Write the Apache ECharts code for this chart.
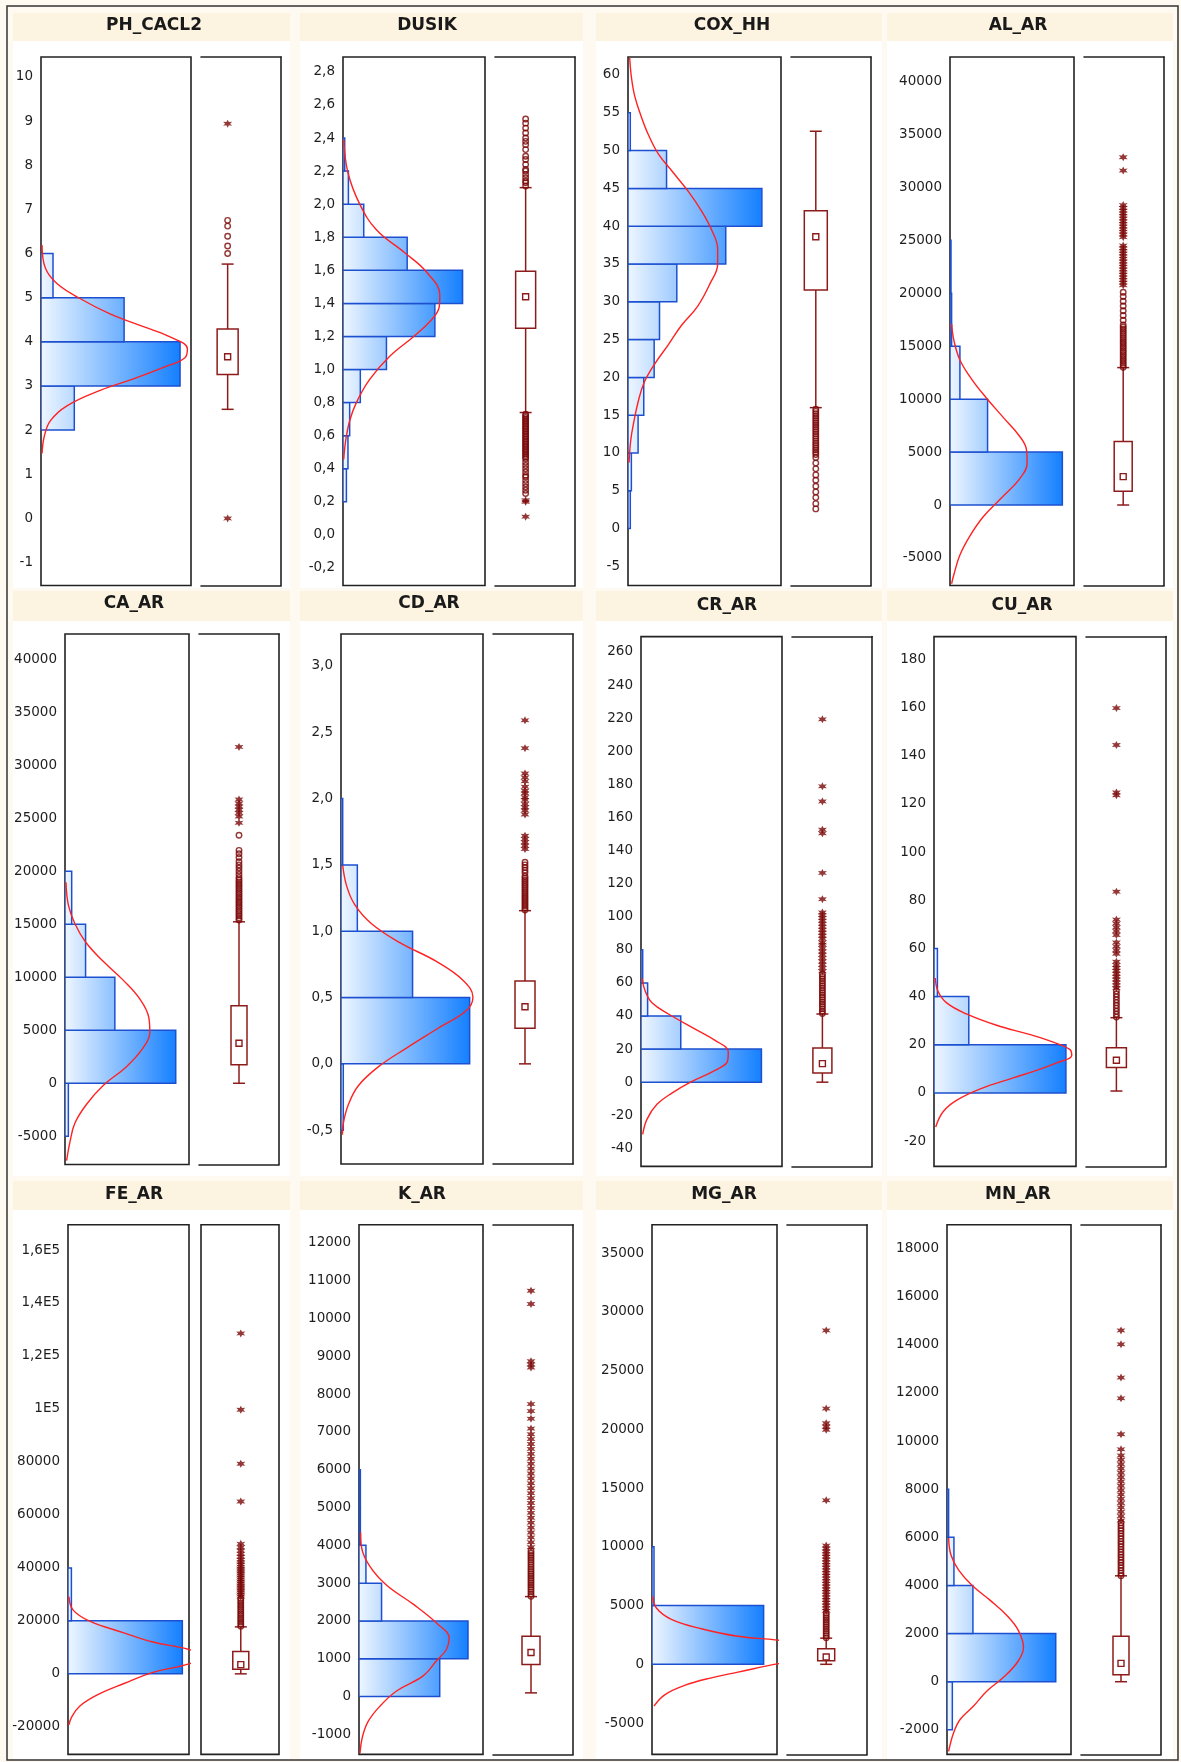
<!DOCTYPE html>
<html>
<head>
<meta charset="utf-8">
<script src="https://cdn.jsdelivr.net/npm/echarts@6/dist/echarts.min.js"></script>
<style>
html,body{margin:0;padding:0;background:#fefaf1;}
#chart{width:1181px;height:1762px;}
</style>
</head>
<body>
<div id="chart"></div>
<script>
// ---- data ----
// bins: [from, to, bar length in % of the plot width]
// curve: [x in % of plot width, value]
// box: [lower whisker, q1, q3, upper whisker, mean]
const names = ['PH_CACL2','DUSIK','COX_HH','AL_AR','CA_AR','CD_AR','CR_AR','CU_AR','FE_AR','K_AR','MG_AR','MN_AR']

const yRanges = [[-1.52,10.45],[-0.306,2.89],[-7.53,62.38],[-7601,42312],[-7661,42378],[-0.755,3.241],
    [-50.9,269.3],[-30.5,189.5],[-30406,169551],[-1529,12479],[-7667,37410],[-3020,18988]]

const phTicks = [-1,0,1,2,3,4,5,6,7,8,9,10]
const duTicks = [-0.2,0,0.2,0.4,0.6,0.8,1.0,1.2,1.4,1.6,1.8,2.0,2.2,2.4,2.6,2.8]
const coxTicks = [-5,0,5,10,15,20,25,30,35,40,45,50,55,60]
const alTicks = [-5000,0,5000,10000,15000,20000,25000,30000,35000,40000]
const caTicks = [-5000,0,5000,10000,15000,20000,25000,30000,35000,40000]
const cdTicks = [-0.5,0,0.5,1.0,1.5,2.0,2.5,3.0]
const crTicks = [-40,-20,0,20,40,60,80,100,120,140,160,180,200,220,240,260]
const cuTicks = [-20,0,20,40,60,80,100,120,140,160,180]
const feTicks = [-20000,0,20000,40000,60000,80000,100000,120000,140000,160000]
const feTickLabels = ['-20000','0','20000','40000','60000','80000','1E5','1,2E5','1,4E5','1,6E5']
const kTicks = [-1000,0,1000,2000,3000,4000,5000,6000,7000,8000,9000,10000,11000,12000]
const mgTicks = [-5000,0,5000,10000,15000,20000,25000,30000,35000]
const mnTicks = [-2000,0,2000,4000,6000,8000,10000,12000,14000,16000,18000]
const decimals = [0,1,0,0,0,1,0,0,0,0,0,0]

const phBins = [[2,3,22.2],[3,4,92.7],[4,5,55.4],[5,6,8.0]]
const duBins = [[0.2,0.4,2.4],[0.4,0.6,3.5],[0.6,0.8,4.7],[0.8,1.0,12.2],[1.0,1.2,30.6],[1.2,1.4,64.7],
    [1.4,1.6,84.2],[1.6,1.8,45.2],[1.8,2.0,14.6],[2.0,2.2,3.8],[2.2,2.4,1.2]]
const coxBins = [[0,5,1.5],[5,10,2.2],[10,15,6.6],[15,20,10.3],[20,25,17.1],[25,30,20.6],[30,35,31.9],
    [35,40,63.9],[40,45,87.5],[45,50,25.2],[50,55,1.5]]
const alBins = [[0,5000,90.6],[5000,10000,30.3],[10000,15000,8.0],[15000,20000,1.3],[20000,25000,0.8]]
const caBins = [[-5000,0,2.7],[0,5000,89.3],[5000,10000,40.2],[10000,15000,16.6],[15000,20000,5.4]]
const cdBins = [[-0.5,0,1.6],[0,0.5,90.6],[0.5,1.0,50.4],[1.0,1.5,11.5],[1.5,2.0,1.2]]
const crBins = [[0,20,85.4],[20,40,28.2],[40,60,4.7],[60,80,1.2]]
const cuBins = [[0,20,92.9],[20,40,24.5],[40,60,2.4]]
const feBins = [[0,20000,94.5],[20000,40000,2.8]]
const kBins = [[0,1000,65.1],[1000,2000,87.9],[2000,3000,18.2],[3000,4000,5.6],[4000,5000,1.1],[5000,6000,1.1]]
const mgBins = [[0,5000,89.3],[5000,10000,1.6]]
const mnBins = [[-2000,0,4.3],[0,2000,87.7],[2000,4000,20.9],[4000,6000,5.6],[6000,8000,1.3]]

const phCurve = [[0.7,6.19],[2.9,5.67],[10.6,5.32],[26,4.98],[46,4.63],[66,4.37],[86,4.11],[97.6,3.84],
    [96,3.64],[81.6,3.42],[61.6,3.16],[39.5,2.90],[17.3,2.55],[6.2,2.21],[2.2,1.86],[0.7,1.47]]
const duCurve = [[0.5,2.39],[3.5,2.19],[11.8,2.0],[23.5,1.845],[43.5,1.706],[58.8,1.59],[68.2,1.45],
    [67.8,1.38],[61.2,1.29],[49.4,1.197],[32.9,1.08],[18.8,0.94],[9.4,0.80],[4.7,0.69],[1.9,0.57],[0.5,0.457]]
const coxCurve = [[1.1,62.3],[2.2,59.75],[4.4,57.2],[8.3,54.7],[13.1,52.2],[19.7,49.6],[29.5,47.1],
    [39.4,44.6],[48.1,42.0],[54.7,39.5],[58.6,37.0],[58.6,34.96],[53.6,32.4],[45.5,29.4],[35,26.9],
    [26.3,24.3],[17.5,21.8],[10.5,19.3],[6.6,16.75],[3.9,14.2],[1.8,11.7],[0.7,8.7]]
const alCurve = [[1.3,17132],[3.2,15506],[8,13700],[17.4,11893],[29.5,10087],[42.9,8280],[56.3,6474],
    [61.7,5210],[62.2,3945],[56.3,2500],[41.6,694],[26.8,-1112],[16.1,-2919],[8,-4725],[3.2,-6532],[1.3,-7435]]
const caCurve = [[0.8,18957],[2.7,16828],[8,15053],[16.9,13279],[30.8,11505],[46.9,9730],[60.3,7956],
    [67.6,6182],[68.4,4762],[63,3343],[49.6,1569],[30.8,-206],[17.4,-1980],[8,-3755],[4,-5529],[1.3,-7303]]
const cdCurve = [[1.2,1.496],[4,1.34],[9.8,1.198],[21.5,1.056],[41.4,0.914],[67.2,0.772],[85.9,0.63],
    [92.9,0.502],[88.3,0.403],[67.2,0.261],[46.1,0.119],[26.2,-0.023],[12.2,-0.165],[5.2,-0.307],[1.6,-0.449],[1,-0.534]]
const crCurve = [[0.7,62.8],[3.1,54.8],[7.8,48.0],[19.5,41.2],[38.4,32.1],[52.5,25.3],[61.9,18.4],
    [61.4,12.8],[52.5,7.1],[35.8,0.3],[21.9,-6.6],[11.3,-13.4],[4.2,-22.5],[1.2,-31.6]]
const cuCurve = [[0.9,47.7],[2.8,42.2],[8.7,37.5],[22.8,32.8],[44,28.1],[67.8,24.2],[84,21.1],[95.8,18.0],
    [97,15.6],[86.4,12.5],[72.2,9.4],[55.8,6.25],[32.2,1.6],[15.8,-3.1],[6.4,-7.8],[1.2,-14.1]]
const feCurve = [[0.8,29138],[4.1,24149],[17.9,19872],[45.5,15595],[70.2,12032],[100,9181],[112,6400],
    [100,3763],[71,627],[46.3,-3650],[24.2,-7930],[9.6,-12200],[2.8,-16500],[0.8,-19300]]
const kCurve = [[1.3,4342],[2.1,3942],[8.8,3443],[22.3,2944],[43.7,2444],[62.5,1945],[72.7,1546],
    [70.5,1246],[62.5,946],[51.7,547],[30.3,148],[16.9,-252],[7.5,-651],[2.9,-1050],[0.8,-1500]]
const mgCurve = [[0.8,5758],[3.5,4794],[15.5,3830],[39.5,3026],[68.8,2383],[100,2062],[126,1600],[139,1050],
    [126,500],[100,39],[68.8,-669],[47.5,-1150],[26.1,-1793],[10.1,-2600],[1.6,-3560]]
const mnCurve = [[1.3,5969],[3.2,5263],[9.4,4635],[20.1,4008],[34.9,3380],[48.3,2753],[57.6,2125],
    [61.7,1420],[57.6,871],[46.9,243],[32.2,-384],[21.4,-1012],[10.7,-1561],[5.4,-2110],[1.3,-2894]]

const phBox = [2.47,3.26,4.29,5.76,3.66]
const duBox = [0.74,1.25,1.595,2.10,1.44]
const coxBox = [16.0,31.57,42.04,52.56,38.6]
const alBox = [0,1308,6004,12977,2681]
const caBox = [0,1746,7317,15231,3769]
const cdBox = [0,0.269,0.624,1.155,0.431]
const crBox = [0,5.5,20.7,41.2,11.2]
const cuBox = [0.8,10.6,18.75,31.25,13.6]
const feBox = [0,1768,8468,17730,3485]
const kBox = [98,846,1596,2644,1166]
const mgBox = [0,296,1324,2224,617]
const mnBox = [0,290,1890,4400,761]

// outliers: circles = outside 1.5 IQR, stars = outside 3 IQR
const phCircles = [6.0,6.17,6.39,6.62,6.75]
const phStars = [0.0,8.94]
const duCircles = [0.25,0.27,0.29,0.31,0.33,0.35,0.36,0.38,0.40,0.42,0.44,0.46,0.47,0.48,0.49,0.50,0.51,0.52,
    0.53,0.54,0.55,0.56,0.57,0.58,0.59,0.60,0.61,0.62,0.63,0.64,0.65,0.66,0.67,0.68,0.69,0.70,0.71,0.72,0.73,
    2.11,2.13,2.14,2.16,2.18,2.20,2.21,2.24,2.27,2.29,2.33,2.36,2.38,2.40,2.43,2.46,2.49,2.515]
const duStars = [0.11,0.20,0.21]
const coxCircles = [2.6,3.3,4.1,4.85,5.6,6.4,7.1,7.9,8.66,9.4,9.8,10.1,10.4,10.7,11.0,11.3,11.6,11.9,12.2,
    12.5,12.8,13.1,13.4,13.7,14.0,14.3,14.6,14.9,15.2,15.5,15.8]
const coxStars = []
const alCircles = [13000,13200,13400,13600,13800,14000,14200,14400,14600,14800,15000,15200,15400,15600,15800,
    16000,16200,16400,16600,16800,17000,17450,17900,18350,18800,19250,19700,20100]
const alStars = [20750,21000,21250,21500,21750,22000,22250,22500,22750,23000,23250,23500,23750,24000,24250,24500,
    25300,25550,25800,26050,26300,26550,26800,27050,27300,27550,27800,28050,28330,31582,32847]
const caCircles = [15400,15600,15800,16000,16200,16400,16600,16800,17000,17200,17400,17600,17800,18000,18200,
    18400,18600,18800,19000,19200,19400,19700,20000,20300,20600,20900,21300,21650,21970,23400]
const caStars = [24564,25166,25500,25800,26100,26400,26766,31731]
const cdCircles = [1.16,1.175,1.19,1.205,1.22,1.235,1.25,1.265,1.28,1.295,1.31,1.325,1.34,1.355,1.37,1.385,
    1.40,1.415,1.44,1.46,1.48,1.50,1.52]
const cdStars = [1.62,1.645,1.67,1.695,1.72,1.88,1.91,1.935,1.96,1.99,2.01,2.04,2.06,2.09,2.13,2.16,2.19,2.38,2.59]
const crCircles = [41.5,42.9,44.3,45.7,47.1,48.5,49.9,51.3,52.7,54.1,55.5,56.9,58.3,59.7,61.1,62.5,63.9,65.3]
const crStars = [67,69,71,73,75,77,79,81,83,84.4,86.7,88.5,90.3,92.1,93.9,95.7,97.5,99.3,101,102.6,
    110.6,126.5,150.4,152.6,169.7,178.8,219.3]
const cuCircles = [31.5,32.7,33.9,35.1,36.3,37.5,38.7,39.9,41.1,42.3]
const cuStars = [43.5,44.7,45.9,47.1,48.3,49.5,50.7,51.9,53.1,54.5,57.8,59.3,60.9,62.5,65.6,67.2,68.8,70.4,72,
    83.6,123.6,124.8,144.5,159.8]
const feCircles = [18000,18800,19600,20400,21200,22000,22800,23600,24400,25200,26000,26800,27600,28400]
const feStars = [29200,30000,30800,31600,32400,33200,34000,34800,35600,36400,37200,38000,38800,39600,40400,
    41300,42200,43100,44200,45300,46500,47800,49090,65060,79320,99700,128500]
const kCircles = [2650,2710,2770,2830,2890,2950,3010,3070,3130,3190,3250,3310,3370,3430,3490,3550,3610,3670,
    3730,3790,3850]
const kStars = [3950,4080,4210,4340,4470,4600,4730,4860,4990,5120,5250,5380,5510,5640,5770,5900,6030,6160,
    6290,6420,6550,6680,6810,6937,7088,7350,7550,7736,8700,8785,8870,10382,10732]
const mgCircles = [2250,2440,2630,2820,3010,3200,3390,3580,3770,3960,4150,4340]
const mgStars = [4550,4780,5010,5240,5470,5700,5930,6160,6390,6620,6850,7080,7310,7540,7770,8000,8230,8460,
    8690,8920,9150,9380,9610,9850,10100,13952,19960,20217,20520,21760,28410]
const mnCircles = [4400,4510,4620,4730,4840,4950,5060,5170,5280,5390,5500,5610,5720,5830,5940,6050,6160,
    6270,6380,6490,6600]
const mnStars = [6700,6880,7060,7240,7420,7600,7780,7960,8140,8320,8500,8680,8860,9040,9220,9400,9655,
    10282,11773,12635,14016,14596]

const tickValues = [phTicks,duTicks,coxTicks,alTicks,caTicks,cdTicks,crTicks,cuTicks,feTicks,kTicks,mgTicks,mnTicks]
const bins = [phBins,duBins,coxBins,alBins,caBins,cdBins,crBins,cuBins,feBins,kBins,mgBins,mnBins]
const curves = [phCurve,duCurve,coxCurve,alCurve,caCurve,cdCurve,crCurve,cuCurve,feCurve,kCurve,mgCurve,mnCurve]
const boxes = [phBox,duBox,coxBox,alBox,caBox,cdBox,crBox,cuBox,feBox,kBox,mgBox,mnBox]
const circles = [phCircles,duCircles,coxCircles,alCircles,caCircles,cdCircles,crCircles,cuCircles,feCircles,kCircles,mgCircles,mnCircles]
const stars = [phStars,duStars,coxStars,alStars,caStars,cdStars,crStars,cuStars,feStars,kStars,mgStars,mnStars]

// ---- layout (pixels) ----
// hist: [left, top, right, bottom], box: [left, right], at: box position inside its panel, bw: box width
const layout = [
    {hist:[41,57,191,585.5], box:[201,281], at:0.333, bw:21, title:[154,26]},
    {hist:[343,57,485,585.5], box:[495,575], at:0.383, bw:20, title:[427,26]},
    {hist:[628,57,781,585.5], box:[791,871], at:0.31, bw:23, title:[732,26]},
    {hist:[950,57,1074,585.5], box:[1084,1164], at:0.49, bw:18, title:[1018,26]},
    {hist:[65,634,189,1164.5], box:[199,279], at:0.50, bw:16, title:[134,604]},
    {hist:[341,634,483,1164], box:[493,573], at:0.40, bw:20, title:[429,604]},
    {hist:[641,636.6,782,1166.4], box:[792,872], at:0.38, bw:19, title:[727,606]},
    {hist:[934,636.6,1076,1166.4], box:[1086,1166], at:0.38, bw:20, title:[1022,606]},
    {hist:[68,1224.7,189,1754.4], box:[201,279], at:0.51, bw:16, title:[134,1194.5], leftLine:true},
    {hist:[359,1224.7,483,1754.4], box:[493,573], at:0.475, bw:18, title:[422,1194.5]},
    {hist:[652,1224.7,777,1754.4], box:[787,867], at:0.49, bw:17, title:[724,1194.5]},
    {hist:[947,1224.7,1071,1754.4], box:[1081,1161], at:0.50, bw:16, title:[1018,1194.5]}
]
const rowBands = [[13,41,588],[591,621,1176],[1181,1210,1759]]
const colSpans = [[13,290],[300,583],[596,882],[887,1173]]

// six-armed asterisk used for the extreme outliers
const STAR = 'path://M0,-5L1.2,-2.08L4.33,-2.5L2.4,0L4.33,2.5L1.2,2.08L0,5L-1.2,2.08L-4.33,2.5L-2.4,0L-4.33,-2.5L-1.2,-2.08Z'
const DARKRED = '#7a0606'

function labelFormatter(i) {
    return function (v) {
        if (i === 8) {
            let k = feTicks.findIndex(function (t) { return Math.abs(t - v) < 1 })
            return k >= 0 ? feTickLabels[k] : ''
        }
        return Number(v).toFixed(decimals[i]).replace('.', ',')
    }
}

function renderBins(maxLen) {
    return function (params, api) {
        let lo = api.value(0), hi = api.value(1), len = api.value(2)
        let p0 = api.coord([0, hi])
        let p1 = api.coord([len, lo])
        let g0 = api.coord([0, lo])[0]
        let g1 = api.coord([maxLen, lo])[0]
        return {
            type: 'rect',
            shape: {x: p0[0], y: p0[1], width: Math.max(p1[0] - p0[0], 0.6), height: p1[1] - p0[1]},
            style: {
                fill: new echarts.graphic.LinearGradient(g0, 0, g1, 0, [
                    {offset: 0, color: '#eef6ff'},
                    {offset: 1, color: '#1580ff'}
                ], true),
                stroke: '#1d50d0',
                lineWidth: 1.5
            }
        }
    }
}

function renderBox(at, bw) {
    return function (params, api) {
        let x = api.coord([at, api.value(0)])[0]
        let ylo = api.coord([at, api.value(0)])[1]
        let yq1 = api.coord([at, api.value(1)])[1]
        let yq3 = api.coord([at, api.value(2)])[1]
        let yhi = api.coord([at, api.value(3)])[1]
        let ym = api.coord([at, api.value(4)])[1]
        let st = {stroke: '#8e1b1b', lineWidth: 1.5, fill: null}
        return {
            type: 'group',
            children: [
                {type: 'line', shape: {x1: x, y1: yhi, x2: x, y2: ylo}, style: st},
                {type: 'line', shape: {x1: x - 6, y1: yhi, x2: x + 6, y2: yhi}, style: st},
                {type: 'line', shape: {x1: x - 6, y1: ylo, x2: x + 6, y2: ylo}, style: st},
                {type: 'rect', shape: {x: x - bw / 2, y: yq3, width: bw, height: yq1 - yq3},
                    style: {stroke: '#8e1b1b', lineWidth: 1.5, fill: '#fff'}},
                {type: 'rect', shape: {x: x - 3, y: ym - 3, width: 6, height: 6},
                    style: {stroke: '#8e1b1b', lineWidth: 1.4, fill: '#fff'}}
            ]
        }
    }
}

let grids = [], xAxes = [], yAxes = [], series = [], graphicEls = []

// panel backgrounds
rowBands.forEach(function (r) {
    colSpans.forEach(function (c) {
        graphicEls.push({type: 'rect', z: -10, shape: {x: c[0], y: r[0], width: c[1] - c[0], height: r[1] - r[0]},
            style: {fill: '#fcf4e1'}})
        graphicEls.push({type: 'rect', z: -10, shape: {x: c[0], y: r[1], width: c[1] - c[0], height: r[2] - r[1]},
            style: {fill: '#ffffff'}})
    })
})
graphicEls.push({type: 'rect', z: 20, shape: {x: 7, y: 6, width: 1171, height: 1754},
    style: {fill: null, stroke: '#333', lineWidth: 1.5}})

const lineAxis = {
    show: true,
    axisLine: {show: true, onZero: false, lineStyle: {color: '#222', width: 1.6}},
    axisTick: {show: false}, axisLabel: {show: false}, splitLine: {show: false}
}

names.forEach(function (name, i) {
    let L = layout[i]
    let h = L.hist
    let yr = yRanges[i]

    graphicEls.push({type: 'text', z: 20, x: L.title[0], y: L.title[1],
        style: {text: name, textAlign: 'center', align: 'center', textVerticalAlign: 'middle', verticalAlign: 'middle',
            font: 'bold 17px "DejaVu Sans", sans-serif', fill: '#1a1a1a'}})

    // histogram panel
    let gi = grids.length
    grids.push({left: h[0], top: h[1], width: h[2] - h[0], height: h[3] - h[1], show: true,
        backgroundColor: '#fff', borderColor: '#222', borderWidth: 1.6, containLabel: false, outerBoundsMode: 'none'})
    xAxes.push({gridIndex: gi, type: 'value', min: 0, max: 100, show: false})
    let xi = xAxes.length - 1
    yAxes.push({gridIndex: gi, type: 'value', min: yr[0], max: yr[1],
        axisLine: {show: false}, axisTick: {show: false}, splitLine: {show: false},
        axisLabel: {customValues: tickValues[i], formatter: labelFormatter(i), color: '#1e1e1e',
            fontSize: 13.5, fontFamily: 'DejaVu Sans', margin: 8, showMinLabel: true, showMaxLabel: true}})
    let yi = yAxes.length - 1

    let maxLen = Math.max.apply(null, bins[i].map(function (b) { return b[2] }))
    series.push({type: 'custom', xAxisIndex: xi, yAxisIndex: yi, renderItem: renderBins(maxLen),
        data: bins[i], encode: {x: 2, y: [0, 1]}, clip: true, silent: true, z: 2})
    series.push({type: 'line', xAxisIndex: xi, yAxisIndex: yi, data: curves[i], smooth: 0.4,
        showSymbol: false, symbol: 'none', lineStyle: {color: '#ff2222', width: 1.4}, clip: true, silent: true, z: 3})

    // box panel
    let bg = grids.length
    grids.push({left: L.box[0], top: h[1], width: L.box[1] - L.box[0], height: h[3] - h[1], show: !!L.leftLine,
        backgroundColor: '#fff', borderColor: '#222', borderWidth: 1.6, containLabel: false, outerBoundsMode: 'none'})
    xAxes.push(Object.assign({gridIndex: bg, type: 'value', min: 0, max: 1, position: 'bottom'},
        L.leftLine ? {show: false} : lineAxis))
    let bxi = xAxes.length - 1
    if (!L.leftLine) {
        xAxes.push(Object.assign({gridIndex: bg, type: 'value', min: 0, max: 1, position: 'top'}, lineAxis))
    }
    yAxes.push(Object.assign({gridIndex: bg, type: 'value', min: yr[0], max: yr[1], position: 'right'},
        L.leftLine ? {show: false} : lineAxis))
    let byi = yAxes.length - 1

    series.push({type: 'custom', xAxisIndex: bxi, yAxisIndex: byi, renderItem: renderBox(L.at, L.bw),
        data: [boxes[i]], encode: {y: [0, 1, 2, 3, 4]}, silent: true, z: 2})
    series.push({type: 'scatter', xAxisIndex: bxi, yAxisIndex: byi, silent: true, z: 3,
        data: circles[i].map(function (v) { return [L.at, v] }),
        symbol: 'circle', symbolSize: 5.5,
        itemStyle: {color: 'rgba(0,0,0,0)', borderColor: DARKRED, borderWidth: 1.4}})
    series.push({type: 'scatter', xAxisIndex: bxi, yAxisIndex: byi, silent: true, z: 4,
        data: stars[i].map(function (v) { return [L.at, v] }),
        symbol: STAR, symbolSize: [9, 8], itemStyle: {color: DARKRED}})
})

let myChart = echarts.init(document.getElementById('chart'))
myChart.setOption({
    animation: false,
    backgroundColor: '#fefaf1',
    graphic: {elements: graphicEls},
    grid: grids,
    xAxis: xAxes,
    yAxis: yAxes,
    series: series
})
</script>
</body>
</html>
